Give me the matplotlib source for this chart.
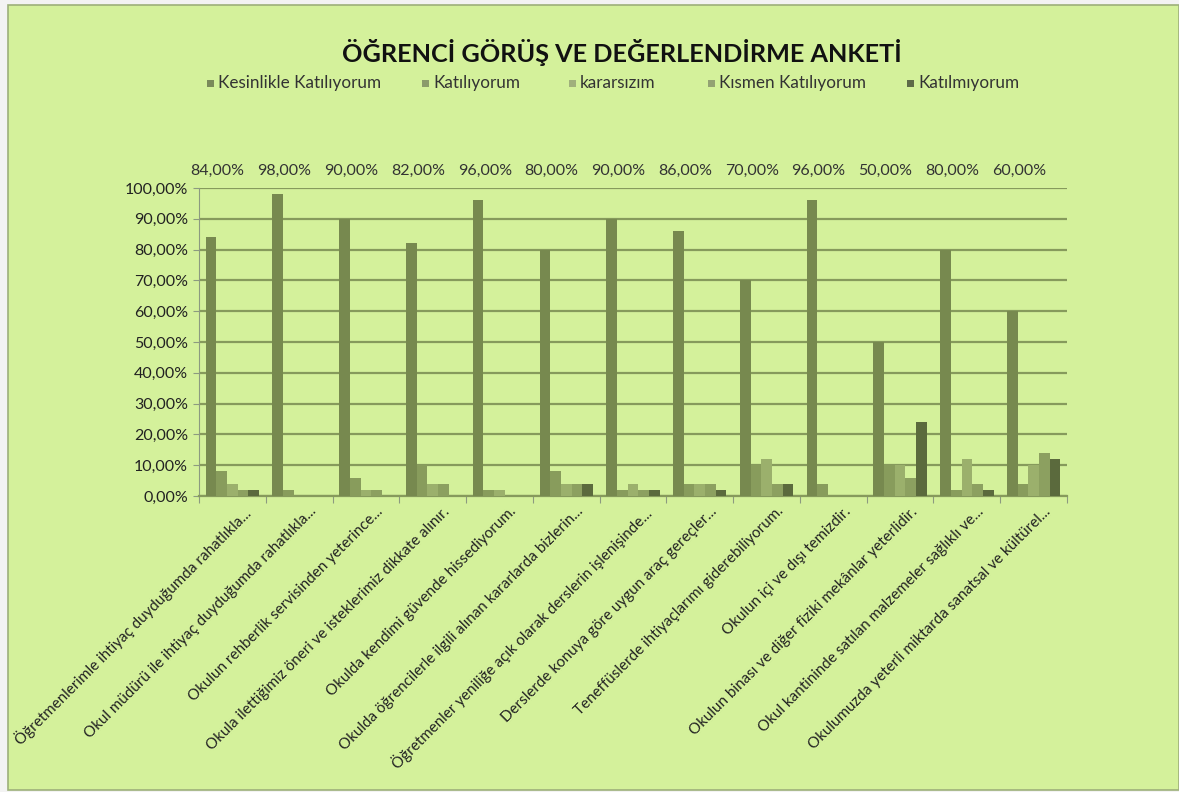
import matplotlib
matplotlib.use("Agg")
import matplotlib.pyplot as plt
from matplotlib.patches import Rectangle
import matplotlib.transforms as mtransforms
import numpy as np

plt.rcParams['font.family'] = ['Lato', 'DejaVu Sans']

categories = [
    "Öğretmenlerimle ihtiyaç duyduğumda rahatlıkla...",
    "Okul müdürü ile ihtiyaç duyduğumda rahatlıkla...",
    "Okulun rehberlik servisinden yeterince...",
    "Okula ilettiğimiz öneri ve isteklerimiz dikkate alınır.",
    "Okulda kendimi güvende hissediyorum.",
    "Okulda öğrencilerle ilgili alınan kararlarda bizlerin...",
    "Öğretmenler yeniliğe açık olarak derslerin işlenişinde...",
    "Derslerde konuya göre uygun araç gereçler...",
    "Teneffüslerde ihtiyaçlarımı giderebiliyorum.",
    "Okulun içi ve dışı temizdir.",
    "Okulun binası ve diğer fiziki mekânlar yeterlidir.",
    "Okul kantininde satılan malzemeler sağlıklı ve...",
    "Okulumuzda yeterli miktarda sanatsal ve kültürel...",
]
series_names = ["Kesinlikle Katılıyorum", "Katılıyorum", "kararsızım",
                "Kısmen Katılıyorum", "Katılmıyorum"]
kesinlikle = [84, 98, 90, 82, 96, 80, 90, 86, 70, 96, 50, 80, 60]
katiliyorum = [8, 2, 6, 10, 2, 8, 2, 4, 10, 4, 10, 2, 4]
kararsizim = [4, 0, 2, 4, 2, 4, 4, 4, 12, 0, 10, 12, 10]
kismen = [2, 0, 2, 4, 0, 4, 2, 4, 4, 0, 6, 4, 14]
katilmiyorum = [2, 0, 0, 0, 0, 4, 2, 2, 4, 0, 24, 2, 12]

series = [kesinlikle, katiliyorum, kararsizim, kismen, katilmiyorum]
colors = ["#77894F", "#889C5C", "#9BB06C", "#8CA060", "#5B6A3D"]
legend_colors = ["#7A8A5A", "#8B9B6B", "#A0B07C", "#93A273", "#5E6B48"]

BG = "#D4F19B"
W, H = 1179, 792
fig = plt.figure(figsize=(W / 100, H / 100), dpi=100)
fig.patch.set_facecolor("#F3F3F3")
fig.patches.append(Rectangle((8 / W, 2 / H), 1 - 8 / W, (790 - 5) / H,
                             transform=fig.transFigure, facecolor=BG,
                             edgecolor="#9DB07A", linewidth=1.2, zorder=-10))

ax = fig.add_axes([199 / W, 1 - 496 / H, (1067 - 199) / W, (496 - 188) / H])
ax.set_facecolor(BG)
ax.patch.set_alpha(0)

n = len(categories)
x = np.arange(n)
bw = 0.16
for k, (vals, col) in enumerate(zip(series, colors)):
    ax.bar(x - 0.4 + bw * (k + 0.5), np.array(vals) / 100.0, width=bw,
           color=col, edgecolor='none', zorder=3)

# data labels for first series
for i, v in enumerate(kesinlikle):
    ax.text(x[i] - 0.22, 1.055, f"{v:.2f}".replace('.', ',') + "%",
            ha='center', va='center', fontsize=11.5, color="#333333",
            clip_on=False)

ax.set_xlim(-0.5, n - 0.5)
ax.set_ylim(0, 1.0)
ax.set_yticks(np.arange(0, 1.01, 0.1))
ax.set_yticklabels([f"{t*100:.2f}".replace('.', ',') + "%" for t in np.arange(0, 1.01, 0.1)],
                   fontsize=11.5, color="#222222")
ax.grid(axis='y', color="#869A5C", linewidth=1.6, zorder=0)
ax.set_axisbelow(True)

for s in ['top', 'right']:
    ax.spines[s].set_visible(False)
ax.spines['left'].set_color("#8C9A80")
ax.spines['bottom'].set_color("#869A5C")
ax.spines['bottom'].set_linewidth(1.6)

ax.set_xticks(np.arange(-0.5, n, 1.0), minor=False)
ax.set_xticklabels([])
ax.tick_params(axis='x', length=5, color="#8C9A80", direction='out')
ax.tick_params(axis='y', length=4, color="#8C9A80", direction='out', pad=4)
ax.set_xticks(x, minor=True)
ax.set_xticklabels(categories, minor=True, rotation=45, ha='right', va='top',
                   rotation_mode='anchor', fontsize=10.9, color="#222222")
ax.tick_params(axis='x', which='minor', length=0, pad=6)
shift = mtransforms.ScaledTranslation(10 / 100, 0, fig.dpi_scale_trans)
for lbl in ax.get_xticklabels(minor=True):
    lbl.set_transform(lbl.get_transform() + shift)

fig.text(622 / W, 1 - 52 / H, "ÖĞRENCİ GÖRÜŞ VE DEĞERLENDİRME ANKETİ",
         ha='center', va='center', fontsize=18.2, fontweight='bold', color="#111111")

leg_x = [207, 422, 569, 708, 907]
for lx, name, col in zip(leg_x, series_names, legend_colors):
    fig.patches.append(Rectangle((lx / W, 1 - 87 / H), 7 / W, 7 / H,
                                 transform=fig.transFigure, facecolor=col,
                                 edgecolor='none'))
    fig.text((lx + 11) / W, 1 - 83 / H, name, ha='left', va='center',
             fontsize=12.3, color="#333333")

fig.savefig("out.png", dpi=100, facecolor=fig.get_facecolor())
